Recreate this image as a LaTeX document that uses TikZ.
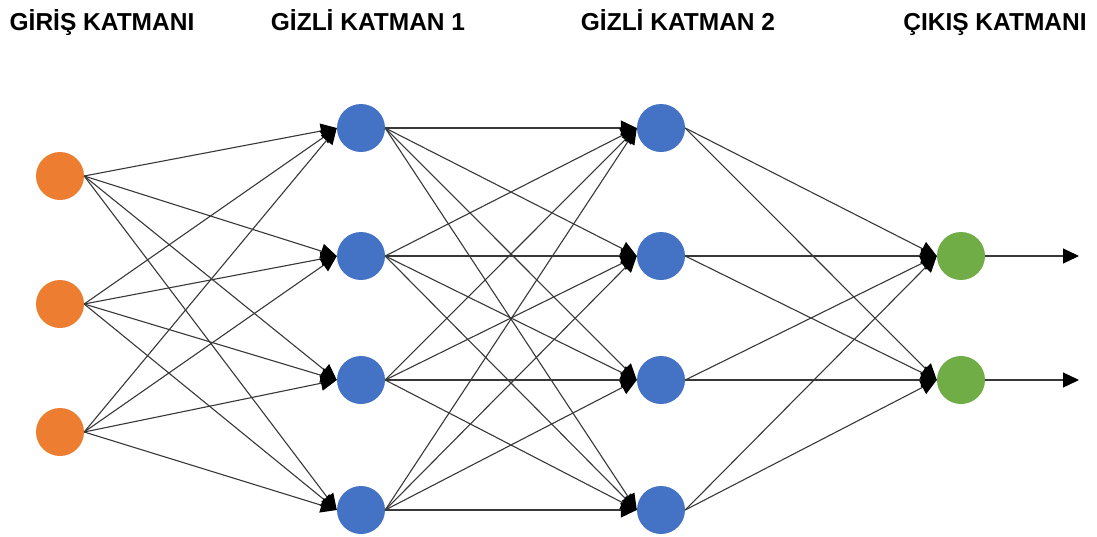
\documentclass[tikz,border=0pt]{standalone}
\usepackage{fontspec}
\setmainfont{Liberation Sans}
\usetikzlibrary{arrows.meta}
\definecolor{inorange}{HTML}{ED7D31}
\definecolor{hidblue}{HTML}{4472C4}
\definecolor{outgreen}{HTML}{70AD47}
\definecolor{edgegray}{HTML}{383838}
\begin{document}
\begin{tikzpicture}[x=1pt,y=-1pt,
  neuron/.style={circle,minimum size=48pt,inner sep=0pt},
  inn/.style={neuron,fill=inorange},
  hid/.style={neuron,fill=hidblue},
  outn/.style={neuron,fill=outgreen},
  conn/.style={draw=edgegray,line width=1.1pt,-{Triangle[length=16pt,width=15pt,color=black]}},
  title/.style={font=\fontsize{24.5}{26}\selectfont\bfseries,anchor=base,inner sep=0pt}]
\useasboundingbox (0,0) rectangle (1097,536);
\node[title] (t1) at (102,30) {GİRİŞ KATMANI};
\node[title] (t2) at (368,30) {GİZLİ KATMAN 1};
\node[title] (t3) at (678,30) {GİZLİ KATMAN 2};
\node[title] (t4) at (995,30) {ÇIKIŞ KATMANI};
\foreach \i/\y in {1/176,2/304,3/432} \node[inn] (i\i) at (60,\y) {};
\foreach \i/\y in {1/128,2/256,3/380,4/510} \node[hid] (a\i) at (361,\y) {};
\foreach \i/\y in {1/128,2/256,3/380,4/510} \node[hid] (b\i) at (661,\y) {};
\foreach \i/\y in {1/256,2/380} \node[outn] (o\i) at (961,\y) {};
\coordinate (e1) at (1079,256);
\coordinate (e2) at (1079,380);
\foreach \i in {1,2,3} \foreach \j in {1,2,3,4} \draw[conn] (i\i.east) -- (a\j.west);
\foreach \i in {1,2,3,4} \foreach \j in {1,2,3,4} \draw[conn] (a\i.east) -- (b\j.west);
\foreach \i in {1,2,3,4} \foreach \j in {1,2} \draw[conn] (b\i.east) -- (o\j.west);
\foreach \i in {1,2} \draw[conn] (o\i.east) -- (e\i);
\end{tikzpicture}
\end{document}
